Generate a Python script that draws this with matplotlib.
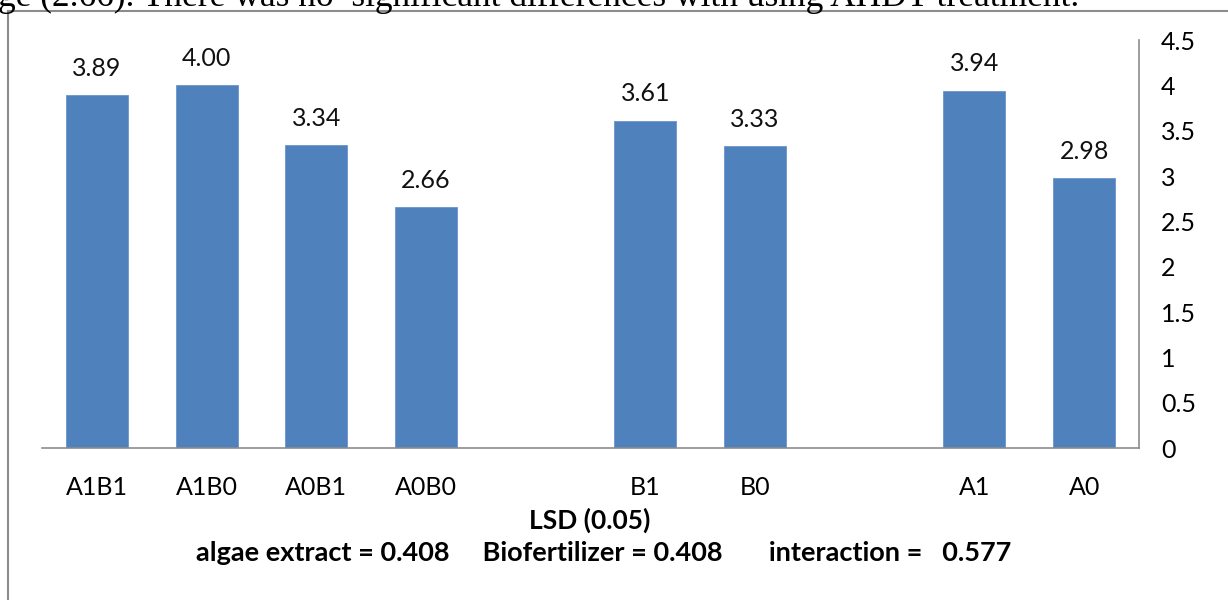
import numpy as np
import matplotlib.pyplot as plt
from matplotlib.lines import Line2D

# data
labels = ['A1B1', 'A1B0', 'A0B1', 'A0B0', '', 'B1', 'B0', '', 'A1', 'A0']
values = [3.89, 4.00, 3.34, 2.66, np.nan, 3.61, 3.33, np.nan, 3.94, 2.98]
value_text = ['3.89', '4.00', '3.34', '2.66', '', '3.61', '3.33', '', '3.94', '2.98']
yticks = [0, 0.5, 1, 1.5, 2, 2.5, 3, 3.5, 4, 4.5]

plt.rcParams['font.family'] = ['Lato', 'DejaVu Sans']

fig = plt.figure(figsize=(12.28, 6), dpi=100)
ax = fig.add_axes([42/1228, 1 - 448/600, (1139 - 42)/1228, 408/600])

x = np.arange(len(labels))
ax.bar(x, values, width=0.565, color='#4F81BD', edgecolor='#6A95CC', linewidth=0.6)
for xi, v, t in zip(x, values, value_text):
    if t:
        ax.annotate(t, (xi, v), xytext=(0, 11), textcoords='offset points',
                    ha='center', va='bottom', fontsize=18, color='#111111')

ax.set_xlim(-0.5, len(labels) - 0.5)
ax.set_ylim(0, 4.5)
ax.set_xticks(x)
ax.set_xticklabels(labels, fontsize=18)
ax.yaxis.tick_right()
ax.set_yticks(yticks)
ax.set_yticklabels([f'{t:g}' for t in yticks], fontsize=18)
ax.tick_params(axis='x', length=0, pad=20)
ax.tick_params(axis='y', length=0, pad=16)
for lab in ax.get_yticklabels():
    lab.set_horizontalalignment('left')
for s in ['top', 'left']:
    ax.spines[s].set_visible(False)
for s in ['bottom', 'right']:
    ax.spines[s].set_color('#8C8C8C')
    ax.spines[s].set_linewidth(1.2)

fig.text(590/1228, 1 - 520/600, 'LSD (0.05)', ha='center', va='center',
         fontsize=19, fontweight='bold')
fig.text(604/1228, 1 - 553/600,
         'algae extract = 0.408     Biofertilizer = 0.408       interaction =   0.577',
         ha='center', va='center', fontsize=19.5, fontweight='bold')

# frame of the chart area and the cut-off sentence above it
fig.add_artist(Line2D([8/1228, 8/1228], [0, 1 - 11/600], transform=fig.transFigure,
                      color='#8C8C8C', linewidth=1.5))
fig.add_artist(Line2D([8/1228, 1], [1 - 11/600, 1 - 11/600], transform=fig.transFigure,
                      color='#8C8C8C', linewidth=1.5))
fig.text(-2/1228, 1 - 6/600,
         'ge (2.66). There was no  significant differences with using AHDT treatment.',
         ha='left', va='baseline', fontsize=25.5, family='Liberation Serif')

fig.savefig('out.png', dpi=100)
